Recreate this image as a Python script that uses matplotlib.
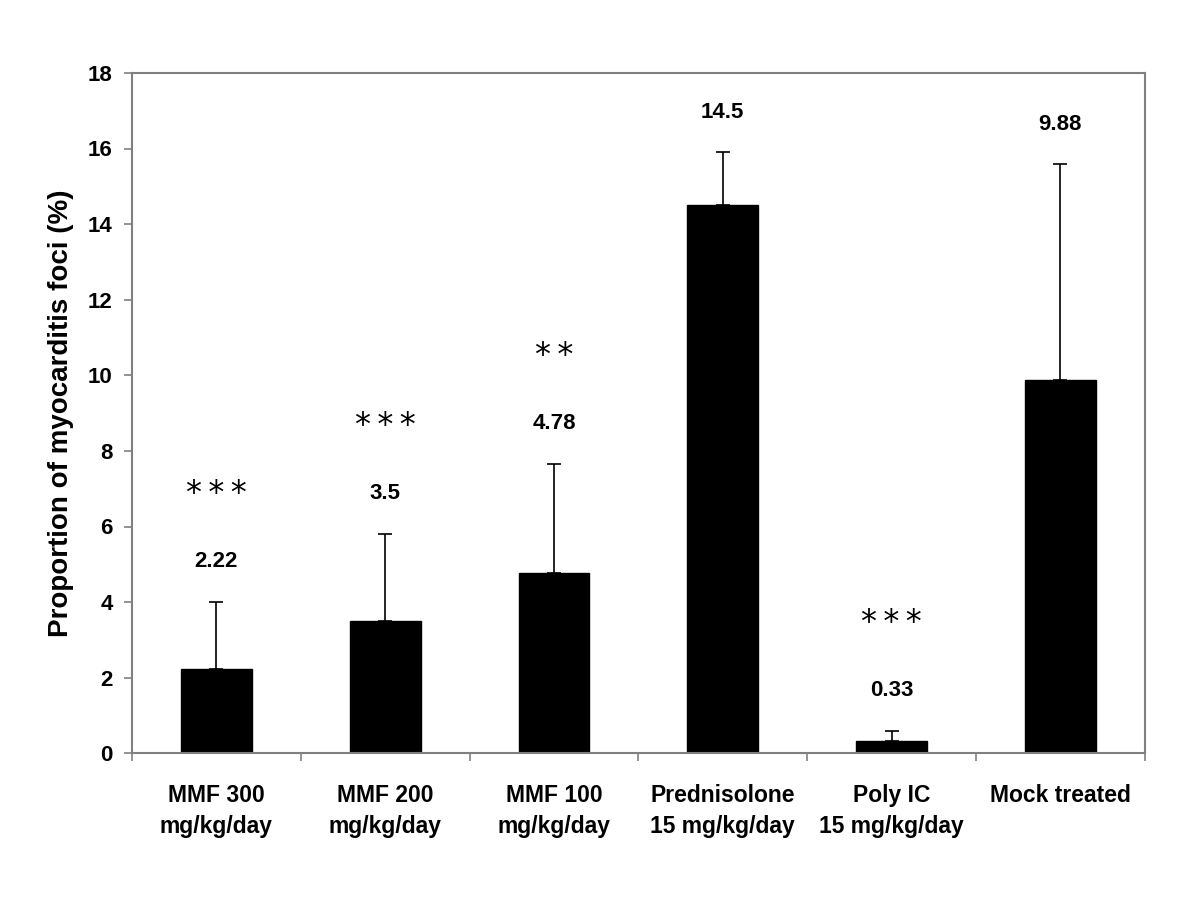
import numpy as np
import matplotlib
matplotlib.use("Agg")
import matplotlib.pyplot as plt

plt.rcParams['font.family'] = ['Liberation Sans', 'DejaVu Sans']

categories = ['MMF 300\nmg/kg/day', 'MMF 200\nmg/kg/day', 'MMF 100\nmg/kg/day',
              'Prednisolone\n15 mg/kg/day', 'Poly IC\n15 mg/kg/day', 'Mock treated']
means = [2.22, 3.5, 4.78, 14.5, 0.33, 9.88]
sd = [1.78, 2.3, 2.87, 1.4, 0.27, 5.7]
value_labels = ['2.22', '3.5', '4.78', '14.5', '0.33', '9.88']
stars = ['***', '***', '**', '', '***', '']

grey = '#808080'

fig = plt.figure(figsize=(12, 9), dpi=100)
ax = fig.add_axes([0.11, 0.163, 0.844, 0.756])

x = np.arange(len(categories))
ax.bar(x, means, width=0.42, color='black', edgecolor='black', zorder=2)
ax.errorbar(x, means, yerr=[np.zeros(len(sd)), sd], fmt='none', ecolor='black',
            elinewidth=1.2, capsize=5, capthick=1.2, zorder=3)

# value labels above the error bars, stars above those
for xi, m, s, lab, st in zip(x, means, sd, value_labels, stars):
    top = m + s
    ax.annotate(lab, (xi, top), xytext=(0, 29), textcoords='offset points',
                ha='center', va='center', fontsize=16, fontweight='bold')
    if st:
        spaced = '\u2009'.join(st)
        ax.annotate(spaced, (xi, top), xytext=(0, 78), textcoords='offset points',
                    ha='center', va='center', fontsize=23, family='DejaVu Sans')

ax.set_xlim(-0.5, len(categories) - 0.5)
ax.set_ylim(0, 18)
ax.set_yticks(np.arange(0, 19, 2))
ax.set_xticks(x)
ax.set_xticklabels(categories, fontsize=16.5, fontweight='bold', linespacing=1.45)
ax.set_xticks(np.arange(-0.5, len(categories)), minor=True)
ax.tick_params(axis='x', which='major', length=0, pad=22)
ax.tick_params(axis='x', which='minor', length=6, color=grey, width=1.2, direction='out')
ax.tick_params(axis='y', length=6, color=grey, width=1.2, direction='out', labelsize=16, pad=8)
for t in ax.get_yticklabels():
    t.set_fontweight('bold')

for sp in ax.spines.values():
    sp.set_color(grey)
    sp.set_linewidth(1.5)

ax.set_ylabel('Proportion of myocarditis foci (%)', fontsize=20, fontweight='bold', labelpad=10)

fig.savefig('out.png', dpi=100)
